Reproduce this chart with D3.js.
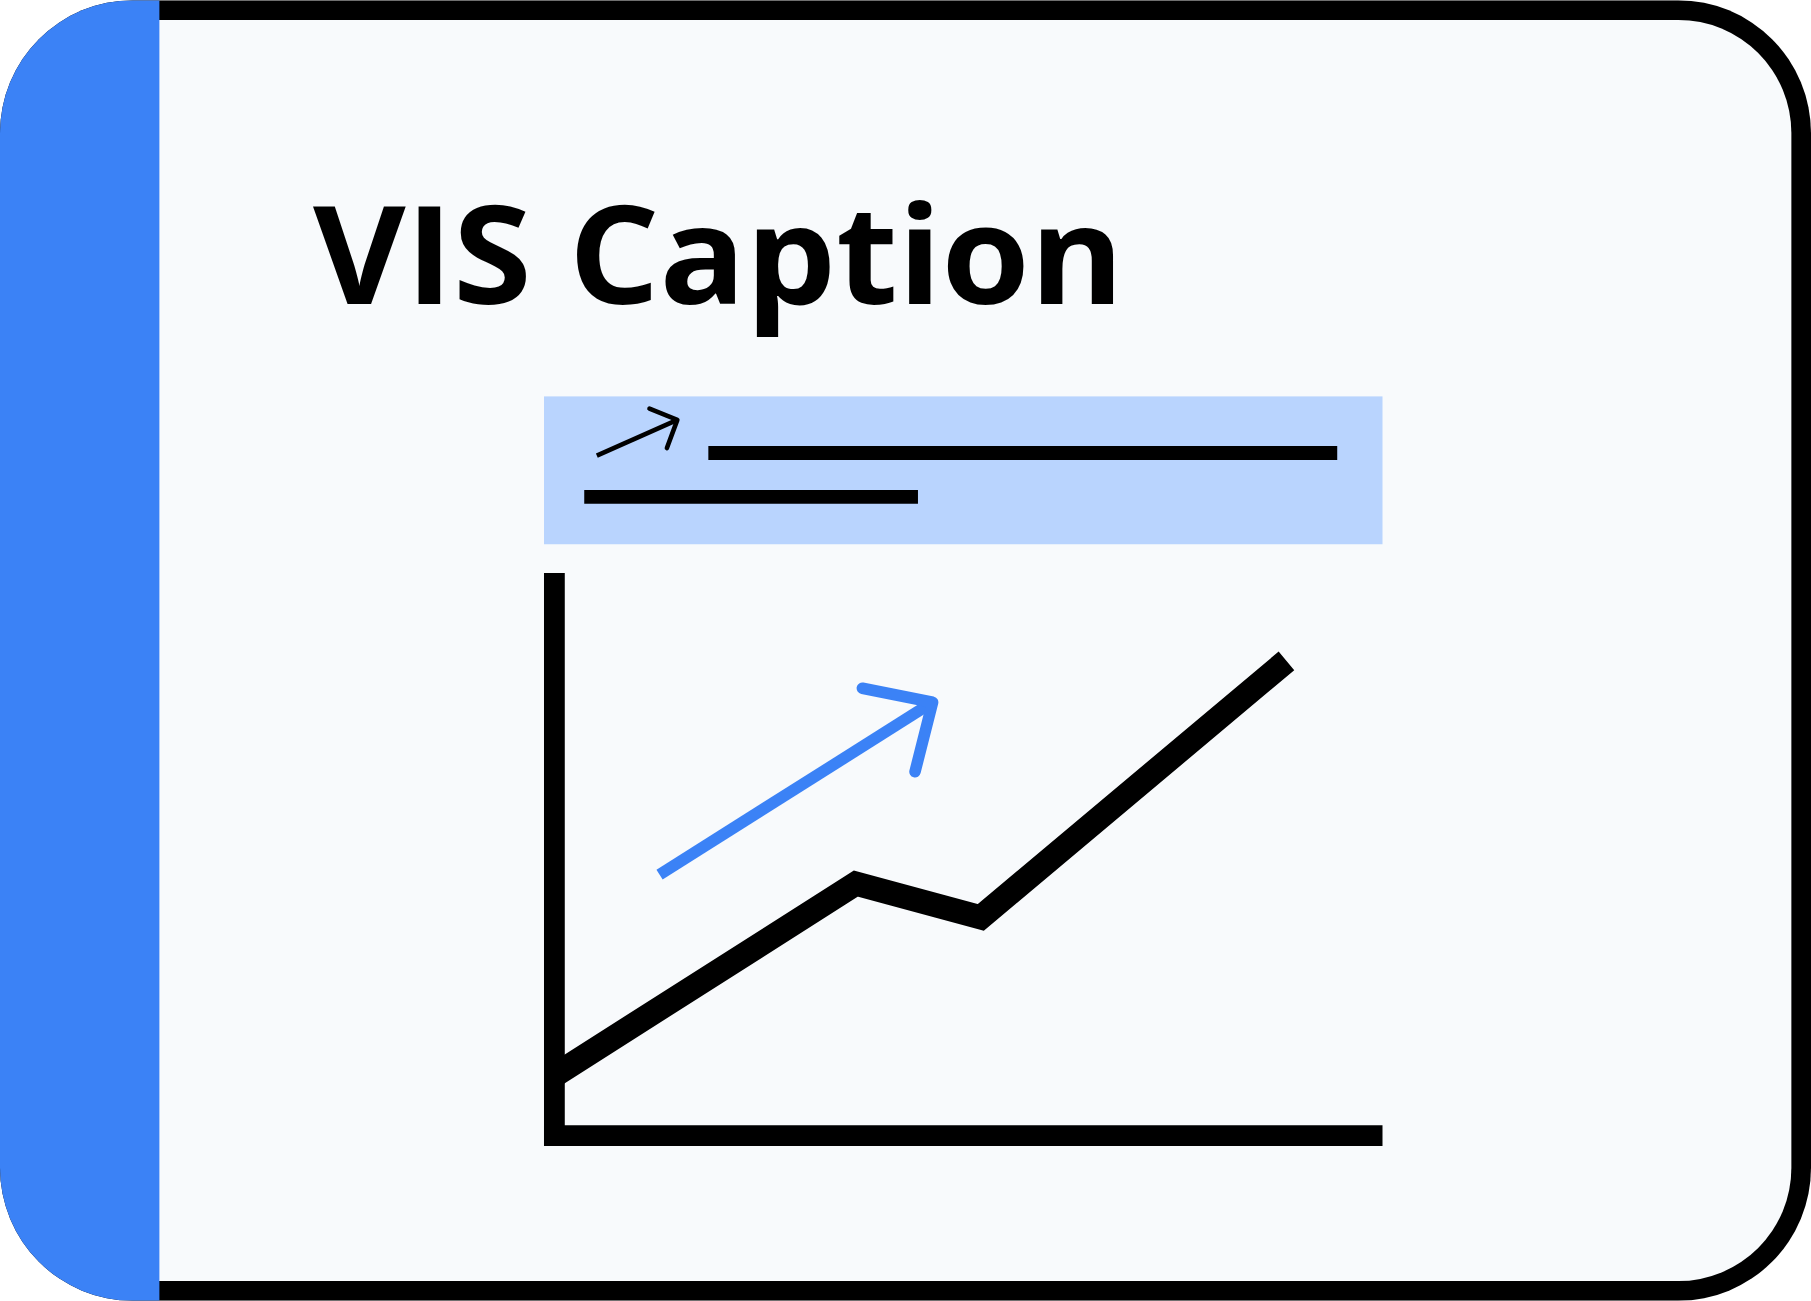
<!DOCTYPE html>
<html>
<head>
<meta charset="utf-8">
<script src="https://cdn.jsdelivr.net/npm/d3@7"></script>
<style>
  html, body { margin: 0; padding: 0; background: #ffffff; }
  svg { display: block; }
</style>
</head>
<body>
<script>
// chart values (0-100 units inside the axis box)
var seriesX = [0, 36.4, 51.5, 88.4];
var seriesY = [10.7, 44.8, 38.8, 84.4];
var trendFrom = [12.7, 46.4];
var trendTo = [45.2, 76.6];
var captionLines = [[19.6, 94.6], [4.8, 44.6]];   // start/end of the placeholder caption lines
var captionArrow = [[6.3, 60], [15.7, 83.6]];
var title = "VIS Caption";

var W = 1568, H = 1126;
var svg = d3.select('body').append('svg')
    .attr('width', 1811).attr('height', 1301)
    .attr('viewBox', '0 0 ' + W + ' ' + H);

// card frame
var defs = svg.append('defs');
defs.append('clipPath').attr('id', 'card')
    .append('rect').attr('width', W).attr('height', H).attr('rx', 115).attr('ry', 115);

var card = svg.append('g').attr('clip-path', 'url(#card)');
card.append('rect').attr('width', W).attr('height', H).attr('fill', '#000');
card.append('rect').attr('x', 17).attr('y', 17).attr('width', W - 34).attr('height', H - 34)
    .attr('rx', 98).attr('ry', 98).attr('fill', '#f8fafc');
card.append('rect').attr('width', 138).attr('height', H).attr('fill', '#3b82f6');

// title
svg.append('text')
    .attr('x', 271).attr('y', 263)
    .attr('font-family', '"Open Sans", sans-serif')
    .attr('font-weight', 700)
    .attr('font-size', 118)
    .attr('textLength', 702)
    .attr('lengthAdjust', 'spacingAndGlyphs')
    .attr('fill', '#000')
    .text(title);

// caption box
var box = { x: 471, y: 343, w: 726, h: 128 };
svg.append('rect').attr('x', box.x).attr('y', box.y).attr('width', box.w).attr('height', box.h)
    .attr('fill', '#b9d4fe');

var cx = d3.scaleLinear().domain([0, 100]).range([box.x, box.x + box.w]);
var cy = d3.scaleLinear().domain([0, 100]).range([box.y + box.h, box.y]);
var rowY = [392, 430];

svg.selectAll('.capline').data(captionLines).enter().append('line')
    .attr('class', 'capline')
    .attr('x1', function(d) { return cx(d[0]); })
    .attr('x2', function(d) { return cx(d[1]); })
    .attr('y1', function(d, i) { return rowY[i]; })
    .attr('y2', function(d, i) { return rowY[i]; })
    .attr('stroke', '#000').attr('stroke-width', 12);

// small arrow in the caption box
drawArrow(cx(captionArrow[0][0]), cy(captionArrow[0][1]), cx(captionArrow[1][0]), cy(captionArrow[1][1]),
    '#000', 4, 26, 0.8);

// axis box
var x = d3.scaleLinear().domain([0, 100]).range([480, 1197]);
var y = d3.scaleLinear().domain([0, 100]).range([983, 496]);

var pts = seriesX.map(function(v, i) { return [x(v), y(seriesY[i])]; });
svg.append('path')
    .attr('d', d3.line()(pts))
    .attr('fill', 'none').attr('stroke', '#000').attr('stroke-width', 21)
    .attr('stroke-linejoin', 'miter');

// trend arrow
drawArrow(x(trendFrom[0]), y(trendFrom[1]), x(trendTo[0]), y(trendTo[1]), '#3b82f6', 10, 62, 0.76);

// axes
svg.append('line').attr('x1', x(0)).attr('x2', x(0)).attr('y1', y(100)).attr('y2', y(0) + 9)
    .attr('stroke', '#000').attr('stroke-width', 18);
svg.append('line').attr('x1', x(0) - 9).attr('x2', x(100)).attr('y1', y(0)).attr('y2', y(0))
    .attr('stroke', '#000').attr('stroke-width', 18);

function drawArrow(x1, y1, x2, y2, color, sw, head, spread) {
    var a = Math.atan2(y2 - y1, x2 - x1);
    var g = svg.append('g').attr('stroke', color).attr('stroke-width', sw).attr('fill', 'none');
    g.append('line').attr('x1', x1).attr('y1', y1).attr('x2', x2).attr('y2', y2);
    var tip = [x2 + Math.cos(a) * sw * 0.4, y2 + Math.sin(a) * sw * 0.4];
    var w1 = [tip[0] - head * Math.cos(a - spread), tip[1] - head * Math.sin(a - spread)];
    var w2 = [tip[0] - head * Math.cos(a + spread), tip[1] - head * Math.sin(a + spread)];
    g.append('path').attr('d', d3.line()([w1, tip, w2]))
        .attr('stroke-linecap', 'round').attr('stroke-linejoin', 'round');
}
</script>
</body>
</html>
